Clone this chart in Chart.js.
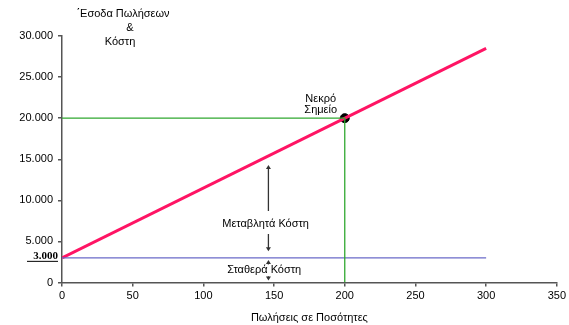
<!DOCTYPE html>
<html>
<head>
<meta charset="utf-8">
<script src="https://cdn.jsdelivr.net/npm/chart.js@4/dist/chart.umd.min.js"></script>
<style>
  body { margin: 0; background: #fff; }
</style>
</head>
<body>
<canvas id="bep" width="569" height="325"></canvas>
<script>
// Νεκρό σημείο - δεδομένα
const quantities = [0, 300];
const totalCost = [3000, 28500];
const fixedCost = [3000, 3000];
const guideX = [0, 200, 200];
const guideY = [20000, 20000, 0];
const breakEven = { x: 200, y: 20000 };
const xTicks = [0, 50, 100, 150, 200, 250, 300, 350];
const yTicks = [0, 5000, 10000, 15000, 20000, 25000, 30000];

// βέλη: [x, από y, προς y]
const arrows = [
    [146, 8700, 14300],
    [146, 5900, 3800],
    [146, 2200, 2750],
    [146, 750, 250]
];

function fmt(v) {
    return v.toLocaleString('de-DE');
}

function toPoints(xs, ys) {
    return xs.map((x, i) => ({ x: x, y: ys[i] }));
}

const FONT = '"Liberation Sans", Arial, sans-serif';

const notes = {
    id: 'notes',
    afterDatasetsDraw(chart) {
        const { ctx } = chart;
        const xs = chart.scales.x, ys = chart.scales.y;
        ctx.save();

        // βέλη
        ctx.strokeStyle = '#333';
        ctx.fillStyle = '#333';
        ctx.lineWidth = 1.3;
        arrows.forEach(a => {
            const px = xs.getPixelForValue(a[0]);
            const y0 = ys.getPixelForValue(a[1]);
            const y1 = ys.getPixelForValue(a[2]);
            const dir = y1 < y0 ? -1 : 1;
            ctx.beginPath();
            ctx.moveTo(px, y0);
            ctx.lineTo(px, y1 - dir * 2);
            ctx.stroke();
            ctx.beginPath();
            ctx.moveTo(px, y1);
            ctx.lineTo(px - 2.5, y1 - dir * 4);
            ctx.lineTo(px + 2.5, y1 - dir * 4);
            ctx.closePath();
            ctx.fill();
        });

        // κείμενα
        ctx.fillStyle = '#000';
        ctx.font = '11px ' + FONT;
        ctx.textAlign = 'center';
        ctx.textBaseline = 'middle';
        ctx.fillText('Μεταβλητά Κόστη', xs.getPixelForValue(144), ys.getPixelForValue(7100));
        ctx.fillText('Σταθερά Κόστη', xs.getPixelForValue(143), ys.getPixelForValue(1550));
        ctx.fillText('Νεκρό', xs.getPixelForValue(183), ys.getPixelForValue(22300));
        ctx.fillText('Σημείο', xs.getPixelForValue(183), ys.getPixelForValue(20950));

        // τίτλος άξονα y
        ctx.fillText('΄Εσοδα Πωλήσεων', 123, 14);
        ctx.fillText('&', 130, 28);
        ctx.fillText('Κόστη', 120, 42);

        // 3.000
        const py = ys.getPixelForValue(fixedCost[0]);
        ctx.font = 'bold 11px "Liberation Serif", "Times New Roman", serif';
        ctx.textAlign = 'right';
        ctx.textBaseline = 'alphabetic';
        ctx.fillText(fmt(fixedCost[0]), 58, py + 1.5);
        ctx.strokeStyle = '#000';
        ctx.lineWidth = 1;
        ctx.beginPath();
        ctx.moveTo(27, py + 3.5);
        ctx.lineTo(58, py + 3.5);
        ctx.stroke();
        ctx.restore();
    }
};

new Chart(document.getElementById('bep'), {
    type: 'scatter',
    data: {
        datasets: [
            {
                data: toPoints(guideX, guideY),
                showLine: true,
                borderColor: '#30a830',
                borderWidth: 1.3,
                pointRadius: 0
            },
            {
                data: toPoints(quantities, fixedCost),
                showLine: true,
                borderColor: '#6a6ac8',
                borderWidth: 1.2,
                pointRadius: 0
            },
            {
                data: toPoints(quantities, totalCost),
                showLine: true,
                borderColor: '#ff1464',
                borderWidth: 3,
                pointRadius: 0
            },
            {
                data: [breakEven],
                pointRadius: 4.5,
                pointBackgroundColor: '#000',
                pointBorderColor: '#000'
            }
        ]
    },
    options: {
        responsive: false,
        animation: false,
        layout: { padding: { top: 36, right: 12, left: 0, bottom: 0 } },
        plugins: {
            legend: { display: false },
            tooltip: { enabled: false }
        },
        scales: {
            x: {
                type: 'linear',
                min: 0,
                max: 350,
                afterBuildTicks: s => { s.ticks = xTicks.map(v => ({ value: v })); },
                afterFit: s => { s.height = 42.5; },
                grid: { drawOnChartArea: false, tickLength: 4, color: '#555', lineWidth: 1.5 },
                border: { color: '#555', width: 1.5 },
                ticks: { color: '#000', font: { family: FONT, size: 11 }, padding: 3, maxRotation: 0 },
                title: {
                    display: true,
                    text: 'Πωλήσεις σε Ποσότητες',
                    color: '#000',
                    font: { family: FONT, size: 11 },
                    padding: { top: 3, bottom: 0 }
                }
            },
            y: {
                min: 0,
                max: 30000,
                afterBuildTicks: s => { s.ticks = yTicks.map(v => ({ value: v })); },
                afterFit: s => { s.width = 62; },
                grid: { drawOnChartArea: false, tickLength: 4, color: '#555', lineWidth: 1.5 },
                border: { color: '#555', width: 1.5 },
                ticks: {
                    color: '#000',
                    font: { family: FONT, size: 11 },
                    padding: 5,
                    callback: v => fmt(v)
                }
            }
        }
    },
    plugins: [notes]
});
</script>
</body>
</html>
